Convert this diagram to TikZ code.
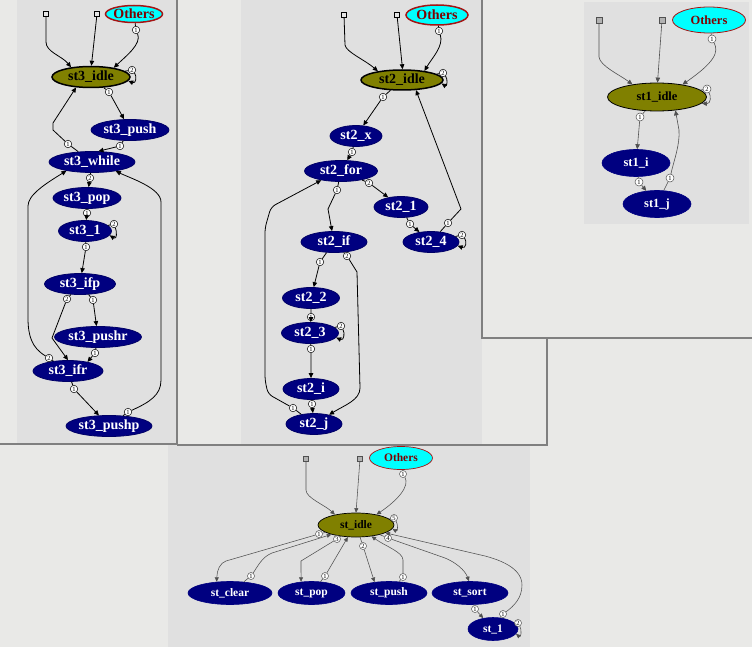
\documentclass[tikz,border=0pt]{standalone}
\usepackage{fontspec}
\setmainfont{Liberation Serif}
\usetikzlibrary{shapes.geometric,arrows.meta}
\definecolor{olivec}{RGB}{128,128,0}
\definecolor{navyc}{RGB}{0,0,128}
\definecolor{cyanc}{RGB}{0,255,255}
\definecolor{maroonc}{RGB}{128,0,0}
\definecolor{otherbd}{RGB}{165,20,20}
\definecolor{bglight}{RGB}{233,233,231}
\definecolor{bggraph}{RGB}{224,224,224}
\definecolor{framec}{RGB}{128,128,128}
\definecolor{edgec}{RGB}{80,80,80}
\newcommand\fntA{\fontsize{14}{14}\selectfont\bfseries}
\newcommand\fntB{\fontsize{12.5}{12.5}\selectfont\bfseries}
\newcommand\fntC{\fontsize{11.5}{11.5}\selectfont\bfseries}
\newcommand\fntL{\fontsize{6.5}{6.5}\selectfont}
\newcommand\mk[1]{\makebox[0pt]{#1}}
\begin{document}
\begin{tikzpicture}[x=1pt,y=-1pt,
  sz/.style 2 args={minimum width=#1pt,minimum height=#2pt},
  nA/.style={ellipse,inner sep=0pt,font=\fntA},
  idleA/.style={nA,fill=olivec,draw=black,line width=1.5pt,text=black},
  stA/.style={nA,fill=navyc,draw=navyc!80!black,line width=0.8pt,text=white},
  othA/.style={nA,fill=cyanc,draw=otherbd,line width=1.5pt,text=maroonc},
  sqA/.style={rectangle,draw=black,fill=gray!20,minimum size=5pt,inner sep=0pt,line width=0.7pt},
  labA/.style={circle,draw=black,fill=white,minimum size=7.5pt,inner sep=0pt,line width=0.5pt,font=\fntL},
  eA/.style={draw=black,line width=0.8pt,-{Triangle[length=5pt,width=4.5pt]}},
  nB/.style={ellipse,inner sep=0pt,font=\fntB},
  idleB/.style={nB,fill=olivec,draw=black,line width=0.8pt,text=black},
  stB/.style={nB,fill=navyc,draw=navyc,line width=0.6pt,text=white},
  othB/.style={nB,fill=cyanc,draw=otherbd,line width=0.8pt,text=maroonc},
  sqB/.style={rectangle,draw=edgec,fill=gray!60,minimum size=6pt,inner sep=0pt,line width=0.6pt},
  labB/.style={circle,draw=edgec,fill=white,minimum size=8pt,inner sep=0pt,line width=0.5pt,font=\fntL},
  eB/.style={draw=edgec,line width=0.6pt,-{Triangle[length=5pt,width=4.5pt]}},
  nC/.style={ellipse,inner sep=0pt,font=\fntC},
  idleC/.style={nC,fill=olivec,draw=black,line width=0.7pt,text=black},
  stC/.style={nC,fill=navyc,draw=navyc,line width=0.6pt,text=white},
  othC/.style={nC,fill=cyanc,draw=otherbd,line width=0.7pt,text=maroonc},
  sqC/.style={rectangle,draw=edgec,fill=gray!60,minimum size=5pt,inner sep=0pt,line width=0.6pt},
  labC/.style={circle,draw=edgec,fill=white,minimum size=7pt,inner sep=0pt,line width=0.5pt,font=\fntL},
  eC/.style={draw=edgec,line width=0.55pt,-{Triangle[length=4.5pt,width=4pt]}},
  frame/.style={draw=framec,line width=1.2pt}
]
\useasboundingbox (0,0) rectangle (752,647);
\fill[bglight] (0,0) rectangle (752,647);
\fill[bggraph] (17,0) rectangle (177,444);
\fill[bggraph] (241,0) rectangle (482,445);
\fill[bggraph] (584,2) rectangle (749,224);
\fill[bggraph] (168,445) rectangle (530,647);
\draw[frame] (0,444) -- (177,444);
\draw[frame] (177,0) -- (177,444);
\draw[frame] (177,445) -- (547,445) -- (547,338);
\draw[frame] (482,0) -- (482,338) -- (752,338);

% ---------- window st3 ----------
\node[sqA] (a1) at (46,14) {};
\node[sqA] (a2) at (97,14) {};
\node[othA,sz={57}{17}] (ao) at (134,14) {\mk{Others}};
\node[idleA,sz={78}{21}] (aidle) at (91,77) {\mk{st3\_idle}};
\node[stA,sz={78}{21}] (apush) at (130,130) {\mk{st3\_push}};
\node[stA,sz={86}{21}] (awhile) at (92,162) {\mk{st3\_while}};
\node[stA,sz={68}{21}] (apop) at (87,198) {\mk{st3\_pop}};
\node[stA,sz={53}{21}] (a1n) at (85,231) {\mk{st3\_1}};
\node[stA,sz={71}{21}] (aifp) at (80,284) {\mk{st3\_ifp}};
\node[stA,sz={87}{21}] (apushr) at (98,337) {\mk{st3\_pushr}};
\node[stA,sz={70}{21}] (aifr) at (68,371) {\mk{st3\_ifr}};
\node[stA,sz={86}{21}] (apushp) at (109,426) {\mk{st3\_pushp}};
\node[labA] (la1) at (136,30) {1};
\node[labA] (la2) at (132,70) {2};
\node[labA] (la3) at (109,92) {1};
\node[labA] (la4) at (120,146) {1};
\node[labA] (la5) at (68,144) {1};
\node[labA] (la6) at (90,178) {2};
\node[labA] (la7) at (87,213) {1};
\node[labA] (la8) at (114,224) {2};
\node[labA] (la9) at (86,247) {1};
\node[labA] (la10) at (93,300) {1};
\node[labA] (la11) at (67,299) {2};
\node[labA] (la12) at (95,353) {1};
\node[labA] (la13) at (49,358) {2};
\node[labA] (la14) at (74,389) {1};
\node[labA] (la15) at (128,412) {1};
\draw[eA] (a1) -- (46,42) .. controls (46,52) and (62,56) .. (aidle.154);
\draw[eA] (a2) -- (aidle.88);
\draw[eA] (ao) -- (la1) .. controls (142,44) and (126,56) .. (aidle.22);
\draw[eA] (aidle) -- (la2) .. controls (137,76) and (136,84) .. (aidle.-6);
\draw[eA] (aidle) -- (la3) -- (apush);
\draw[eA] (apush) -- (la4) -- (awhile.59);
\draw[eA] (awhile) -- (la5) -- (53,130) -- (53,123) -- (aidle.215);
\draw[eA] (awhile) -- (la6) -- (apop);
\draw[eA] (apop) -- (la7) -- (a1n);
\draw[eA] (a1n) -- (la8) .. controls (117,232) and (117,240) .. (a1n.-10);
\draw[eA] (a1n) -- (la9) -- (aifp);
\draw[eA] (aifp) -- (la10) -- (apushr);
\draw[eA] (aifp) -- (la11) -- (52,338) -- (aifr.north);
\draw[eA] (apushr) -- (la12) -- (aifr.25);
\draw[eA] (aifr) -- (la13) .. controls (32,348) and (28,336) .. (28,318) -- (28,206) .. controls (28,195) and (45,184) .. (awhile.199);
\draw[eA] (aifr) -- (la14) -- (apushp);
\draw[eA] (apushp) -- (la15) .. controls (150,402) and (161,395) .. (161,380) -- (161,202) .. controls (161,188) and (130,178) .. (awhile.-21);

% ---------- window st2 ----------
\node[sqA] (b1) at (344,15) {};
\node[sqA] (b2) at (397,15) {};
\node[othA,sz={62}{20}] (bo) at (437,15) {\mk{Others}};
\node[idleA,sz={82}{20}] (bidle) at (402,80) {\mk{st2\_idle}};
\node[stA,sz={52}{21}] (bx) at (356,136) {\mk{st2\_x}};
\node[stA,sz={73}{21}] (bfor) at (341,171) {\mk{st2\_for}};
\node[stA,sz={54}{21}] (b1n) at (401,207) {\mk{st2\_1}};
\node[stA,sz={56}{21}] (b4) at (431,242) {\mk{st2\_4}};
\node[stA,sz={66}{21}] (bif) at (334,242) {\mk{st2\_if}};
\node[stA,sz={57}{21}] (b2n) at (311,298) {\mk{st2\_2}};
\node[stA,sz={57}{21}] (b3n) at (310,333) {\mk{st2\_3}};
\node[stA,sz={56}{21}] (bi) at (311,389) {\mk{st2\_i}};
\node[stA,sz={56}{21}] (bj) at (314,424) {\mk{st2\_j}};
\node[labA] (lb1) at (439,31) {1};
\node[labA] (lb2) at (443,73) {2};
\node[labA] (lb3) at (383,97) {1};
\node[labA] (lb4) at (352,152) {1};
\node[labA] (lb5) at (337,190) {1};
\node[labA] (lb6) at (369,183) {2};
\node[labA] (lb7) at (410,224) {1};
\node[labA] (lb8) at (448,223) {1};
\node[labA] (lb9) at (462,235) {2};
\node[labA] (lb10) at (320,262) {1};
\node[labA] (lb11) at (347,256) {2};
\node[labA] (lb12) at (311,317) {1};
\node[labA] (lb13) at (341,326) {2};
\node[labA] (lb14) at (311,349) {1};
\node[labA] (lb15) at (312,404) {1};
\node[labA] (lb16) at (293,408) {1};
\draw[eA] (b1) -- (345,45) .. controls (346,52) and (365,60) .. (bidle.160);
\draw[eA] (b2) -- (bidle.87);
\draw[eA] (bo) -- (lb1) .. controls (444,46) and (432,58) .. (bidle.22);
\draw[eA] (bidle) -- (lb2) .. controls (448,79) and (447,87) .. (bidle.-5);
\draw[eA] (bidle) -- (lb3) -- (bx);
\draw[eA] (bx) -- (lb4) -- (bfor);
\draw[eA] (bfor) -- (lb5) -- (328,209) -- (bif);
\draw[eA] (bfor) -- (lb6) -- (b1n);
\draw[eA] (b1n) -- (lb7) -- (b4);
\draw[eA] (b4) -- (lb8) -- (461,209) -- (bidle.-36);
\draw[eA] (b4) -- (lb9) .. controls (467,241) and (466,249) .. (b4.-8);
\draw[eA] (bif) -- (lb10) -- (b2n);
\draw[eA] (bif) -- (lb11) -- (357,272) -- (360,388) .. controls (360,400) and (345,405) .. (bj);
\draw[eA] (b2n) -- (lb12) -- (b3n);
\draw[eA] (b3n) -- (lb13) .. controls (345,333) and (344,341) .. (b3n.-10);
\draw[eA] (b3n) -- (lb14) -- (bi);
\draw[eA] (bi) -- (lb15) -- (bj);
\draw[eA,rounded corners=5pt] (bj) -- (lb16) -- (268,394) -- (265,380) -- (265,228) -- (271,207) -- (bfor.205);

% ---------- window st1 ----------
\node[sqB] (c1) at (599,20) {};
\node[sqB] (c2) at (662,20) {};
\node[othB,sz={73}{26}] (co) at (709,20) {\mk{Others}};
\node[idleB,sz={99}{28}] (cidle) at (657,97) {\mk{st1\_idle}};
\node[stB,sz={68}{27}] (ci) at (636,163) {\mk{st1\_i}};
\node[stB,sz={68}{27}] (cj) at (657,204) {\mk{st1\_j}};
\node[labB] (lc1) at (712,39) {1};
\node[labB] (lc2) at (707,89) {2};
\node[labB] (lc3) at (640,117) {1};
\node[labB] (lc4) at (639,182) {1};
\node[labB] (lc5) at (670,178) {1};
\draw[eB] (c1) -- (599,57) .. controls (600,66) and (620,75) .. (cidle.153);
\draw[eB] (c2) -- (cidle.88);
\draw[eB] (co) -- (lc1) .. controls (719,52) and (715,62) .. (cidle.26);
\draw[eB] (cidle) -- (lc2) .. controls (711,96) and (711,104) .. (cidle.-8);
\draw[eB] (cidle) -- (lc3) -- (ci);
\draw[eB] (ci) -- (lc4) -- (cj);
\draw[eB] (cj) -- (lc5) .. controls (674,160) and (680,145) .. (679,130) -- (cidle.-36);

% ---------- window st ----------
\node[sqC] (d1) at (306,459) {};
\node[sqC] (d2) at (360,459) {};
\node[othC,sz={63}{23}] (do) at (401,458) {\mk{Others}};
\node[idleC,sz={76}{24}] (didle) at (356,525) {\mk{st\_idle}};
\node[stC,sz={84}{23}] (dclear) at (230,593) {\mk{st\_clear}};
\node[stC,sz={67}{23}] (dpop) at (311.5,593) {\mk{st\_pop}};
\node[stC,sz={76}{23}] (dpush) at (389,593) {\mk{st\_push}};
\node[stC,sz={76}{23}] (dsort) at (470,593) {\mk{st\_sort}};
\node[stC,sz={50}{23}] (d1n) at (493,629) {\mk{st\_1}};
\node[labC] (ld1) at (403,474) {1};
\node[labC] (ld2) at (394,518) {5};
\node[labC] (ld3) at (319,534) {1};
\node[labC] (ld4) at (251,576) {1};
\node[labC] (ld5) at (337,539) {3};
\node[labC] (ld6) at (325,576) {1};
\node[labC] (ld7) at (363,546) {2};
\node[labC] (ld8) at (403,577) {1};
\node[labC] (ld9) at (388,538) {4};
\node[labC] (ld10) at (475,609) {1};
\node[labC] (ld11) at (503,614) {1};
\node[labC] (ld12) at (518,623) {2};
\draw[eC] (d1) -- (306,490) .. controls (306,498) and (325,505) .. (didle.154);
\draw[eC] (d2) -- (didle.90);
\draw[eC] (do) -- (ld1) .. controls (410,486) and (398,500) .. (didle.27);
\draw[eC] (didle) -- (ld2) .. controls (398,524) and (398,532) .. (didle.-6);
\draw[eC] (didle) -- (ld3) -- (226,561) .. controls (220,563) and (217,570) .. (dclear.140);
\draw[eC] (dclear) -- (ld4) .. controls (258,566) and (262,557) .. (272,553) -- (didle.201);
\draw[eC] (didle) -- (ld5) -- (301,561) -- (dpop.133);
\draw[eC] (dpop) -- (ld6) -- (didle.236);
\draw[eC] (didle) -- (ld7) -- (dpush.143);
\draw[eC] (dpush) -- (ld8) -- (403,560) .. controls (403,552) and (385,546) .. (didle.-36);
\draw[eC] (didle) -- (ld9) -- (445,558) .. controls (455,562) and (465,570) .. (dsort.95);
\draw[eC] (dsort) -- (ld10) -- (d1n);
\draw[eC] (d1n) -- (ld11) .. controls (514,606) and (522,598) .. (522,585) .. controls (522,568) and (500,560) .. (485,556) -- (didle.-15);
\draw[eC] (d1n) -- (ld12) .. controls (522,630) and (521,638) .. (d1n.-12);
\end{tikzpicture}
\end{document}
